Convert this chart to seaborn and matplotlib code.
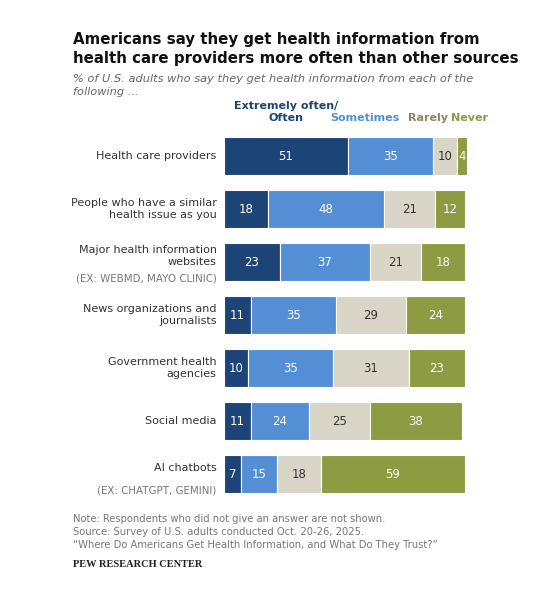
import numpy as np
import matplotlib
matplotlib.use("Agg")
import matplotlib.pyplot as plt
import seaborn as sns

sources = ["Health care providers",
           "People who have a similar\nhealth issue as you",
           "Major health information\nwebsites",
           "News organizations and\njournalists",
           "Government health\nagencies",
           "Social media",
           "AI chatbots"]
subnotes = ["", "", "(EX: WEBMD, MAYO CLINIC)", "", "", "", "(EX: CHATGPT, GEMINI)"]
often = [51, 18, 23, 11, 10, 11, 7]
sometimes = [35, 48, 37, 35, 35, 24, 15]
rarely = [10, 21, 21, 29, 31, 25, 18]
never = [4, 12, 18, 24, 23, 38, 59]

series = ["Extremely often/\nOften", "Sometimes", "Rarely", "Never"]
colors = ["#1d4477", "#548fd6", "#d9d6c7", "#8d9c43"]
label_colors = ["#1d4477", "#548fd6", "#8a8760", "#8d9c43"]
text_colors = ["white", "white", "#333333", "white"]

sns.set_style("white")
plt.rcParams['font.family'] = ['DejaVu Sans']

fig = plt.figure(figsize=(5.6, 5.89), dpi=100)
ax = fig.add_axes([0.4, 0.15, 0.434, 0.63])

vals = [often, sometimes, rarely, never]
y = np.arange(len(sources))
left = np.zeros(len(sources))
for i, v in enumerate(vals):
    v = np.array(v)
    ax.barh(y, v, left=left, height=0.72, color=colors[i], edgecolor="white", linewidth=0.8)
    for yy, vv, ll in zip(y, v, left):
        ax.text(ll + vv / 2, yy, str(vv), ha="center", va="center",
                fontsize=8.5, color=text_colors[i])
    left += v

ax.set_xlim(0, 100)
ax.set_ylim(len(sources) - 0.5, -0.5)
ax.axis("off")

for yy, (s, n) in enumerate(zip(sources, subnotes)):
    if n:
        ax.text(-3, yy - 0.12, s, ha="right", va="center", fontsize=8, color="#333333")
        ax.text(-3, yy + 0.3, n, ha="right", va="center", fontsize=7.4, color="#777777")
    else:
        ax.text(-3, yy, s, ha="right", va="center", fontsize=8, color="#333333")

# column headers
hx = [25.5, 58, 84, 101]
has = ["center", "center", "center", "center"]
for i, (s, x) in enumerate(zip(series, hx)):
    ax.text(x, -0.62, s, ha=has[i], va="bottom", fontsize=8, fontweight="bold",
            color=label_colors[i], linespacing=1.3)

fig.text(0.13, 0.945, "Americans say they get health information from\nhealth care providers more often than other sources",
         fontsize=10.8, fontweight="bold", va="top", color="#111111", linespacing=1.3)
fig.text(0.13, 0.875, "% of U.S. adults who say they get health information from each of the\nfollowing ...",
         fontsize=8.2, style="italic", va="top", color="#666666", linespacing=1.4)
fig.text(0.13, 0.128, "Note: Respondents who did not give an answer are not shown.\nSource: Survey of U.S. adults conducted Oct. 20-26, 2025.\n\u201cWhere Do Americans Get Health Information, and What Do They Trust?\u201d",
         fontsize=7.2, va="top", color="#777777", linespacing=1.4)
fig.text(0.13, 0.05, "PEW RESEARCH CENTER", fontsize=7.5, fontweight="bold", va="top",
         color="#222222", family=["Liberation Serif", "DejaVu Serif"])

fig.savefig("out.png", dpi=100)
